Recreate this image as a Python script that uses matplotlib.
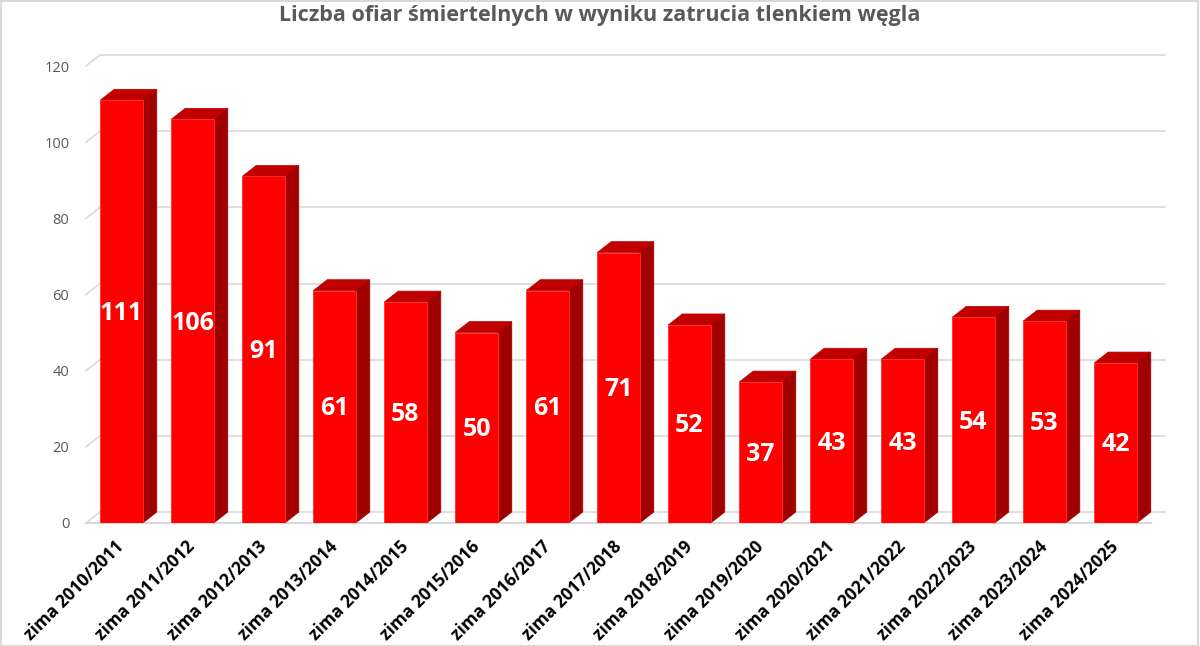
import numpy as np
import matplotlib
matplotlib.use("Agg")
import matplotlib.pyplot as plt
from matplotlib.patches import Polygon, Rectangle

# data
seasons = ["zima 2010/2011", "zima 2011/2012", "zima 2012/2013", "zima 2013/2014",
           "zima 2014/2015", "zima 2015/2016", "zima 2016/2017", "zima 2017/2018",
           "zima 2018/2019", "zima 2019/2020", "zima 2020/2021", "zima 2021/2022",
           "zima 2022/2023", "zima 2023/2024", "zima 2024/2025"]
deaths = [111, 106, 91, 61, 58, 50, 61, 71, 52, 37, 43, 43, 54, 53, 42]
yticks = [0, 20, 40, 60, 80, 100, 120]

title = "Liczba ofiar śmiertelnych w wyniku zatrucia tlenkiem węgla"

plt.rcParams['font.family'] = ['Open Sans', 'DejaVu Sans']

W, H = 1200, 646
fig = plt.figure(figsize=(W / 100, H / 100), dpi=100)
fig.patch.set_facecolor("white")

# front plane of the 3d box
left, right, bottom, top = 86, 1151, 523, 66
ax = fig.add_axes([left / W, 1 - bottom / H, (right - left) / W, (bottom - top) / H])
ax.set_xlim(-0.5, len(seasons) - 0.5)
ax.set_ylim(0, 120)

# depth of the 3d effect, pixels -> data units
px_x = (right - left) / len(seasons)
px_y = (bottom - top) / 120
ddx = 14 / px_x
ddy = 11 / px_y

x = np.arange(len(seasons))
bw = 0.6

grid_c = "#d9d9d9"
n = len(seasons)
for t in yticks:
    # back wall gridline + left diagonal
    ax.plot([-0.5 + ddx, n - 0.5 + ddx], [t + ddy, t + ddy], color=grid_c, lw=1.2,
            clip_on=False, zorder=0)
    ax.plot([-0.5, -0.5 + ddx], [t, t + ddy], color=grid_c, lw=1.2,
            clip_on=False, zorder=0)
# floor front edge
ax.plot([-0.5, n - 0.5], [0, 0], color=grid_c, lw=1.5, clip_on=False, zorder=1)

ax.bar(x, deaths, width=bw, color="#ff0000", edgecolor="#ff3030", linewidth=0.6, zorder=3)
for xi, v in zip(x, deaths):
    x0, x1 = xi - bw / 2, xi + bw / 2
    topf = Polygon([[x0, v], [x1, v], [x1 + ddx, v + ddy], [x0 + ddx, v + ddy]],
                   closed=True, facecolor="#c00000", edgecolor="#c00000", lw=0.5,
                   zorder=2, clip_on=False)
    side = Polygon([[x1, 0], [x1 + ddx, ddy], [x1 + ddx, v + ddy], [x1, v]],
                   closed=True, facecolor="#a00000", edgecolor="#a00000", lw=0.5,
                   zorder=2, clip_on=False)
    ax.add_patch(topf)
    ax.add_patch(side)
    ax.text(xi, v / 2 - 0.5, str(v), ha="center", va="center", color="white",
            fontsize=18, fontweight="bold", zorder=5)

ax.set_yticks(yticks)
ax.set_xticks(x)
ax.set_xticklabels(seasons, rotation=45, ha="right", va="center",
                   rotation_mode="anchor", fontsize=12.5, fontweight="bold", color="black")
ax.tick_params(axis="x", length=0, pad=15)
ax.tick_params(axis="y", length=0, pad=12, labelsize=10.5, labelcolor="#595959")
for s in ax.spines.values():
    s.set_visible(False)
ax.patch.set_visible(False)

fig.text(0.5, 1 - 16 / H, title, ha="center", va="center", fontsize=15.5,
         fontweight="bold", color="#595959")

# chart border
fig.patches.append(Rectangle((0.001, 0.0), 0.997, 0.999, transform=fig.transFigure,
                             fill=False, edgecolor="#d9d9d9", lw=1.5))

fig.savefig("out.png", dpi=100)
